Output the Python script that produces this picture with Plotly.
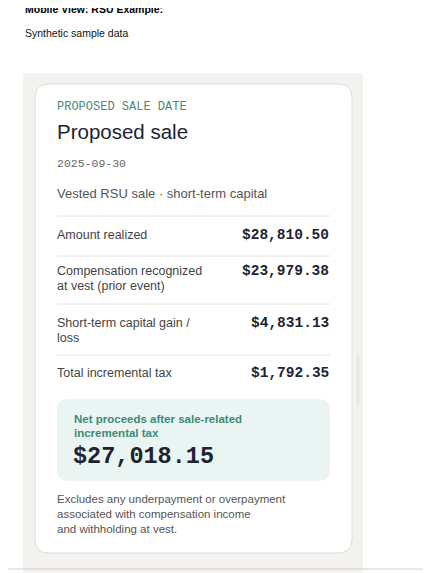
import plotly.graph_objects as go

row_labels = [["Amount realized"],
              ["Compensation recognized", "at vest (prior event)"],
              ["Short-term capital gain /", "loss"],
              ["Total incremental tax"]]
row_values = ["$28,810.50", "$23,979.38", "$4,831.13", "$1,792.35"]
net_label = ["Net proceeds after sale-related", "incremental tax"]
net_value = "$27,018.15"
footnote = ["Excludes any underpayment or overpayment",
            "associated with compensation income",
            "and withholding at vest."]

W, H = 431, 573
OFF = 8
fig = go.Figure()
fig.add_trace(go.Scatter(x=[0, W], y=[0, H], mode="markers", marker=dict(opacity=0), hoverinfo="skip", showlegend=False))

def rrect(x0, y0, x1, y1, r):
    return (f"M{x0+r},{y0} L{x1-r},{y0} Q{x1},{y0} {x1},{y0+r} L{x1},{y1-r} Q{x1},{y1} {x1-r},{y1} "
            f"L{x0+r},{y1} Q{x0},{y1} {x0},{y1-r} L{x0},{y0+r} Q{x0},{y0} {x0+r},{y0} Z")

shapes = [
    dict(type="rect", x0=23, x1=363, y0=73, y1=575, fillcolor="#f3f2ef", line=dict(width=0), layer="below"),
    dict(type="path", path=rrect(35, 84, 352, 553, 14), fillcolor="#ffffff", line=dict(color="#dcdcda", width=1), layer="below"),
    dict(type="path", path=rrect(57, 399, 330, 481, 12), fillcolor="#eaf4f3", line=dict(width=0), layer="below"),
    dict(type="line", x0=-10, x1=W + 10, y0=569, y1=569, line=dict(color="#cfcfcf", width=1)),
    dict(type="line", x0=358, x1=358, y0=355, y1=405, line=dict(color="#e6e6e4", width=3)),
]
for y in [216, 256, 304, 355]:
    shapes.append(dict(type="line", x0=57, x1=330, y0=y, y1=y, line=dict(color="#e2e2e2", width=1)))

ann = []
def t(x, y, s, size, color, family="Liberation Sans", xa="left", bold=False):
    if bold:
        s = f"<b>{s}</b>"
    ann.append(dict(x=x, y=y, text=s, xref="x", yref="y", showarrow=False, xanchor=xa, yanchor="middle",
                    font=dict(size=size, color=color, family=family)))

t(23, 9, "Mobile View: RSU Example:", 10.5, "#000000", bold=True)
t(23, 33, "Synthetic sample data", 10.5, "#111111")
t(55, 107, "PROPOSED SALE DATE", 12, "#4a8a7a", family="Liberation Mono", bold=False)
t(55, 131, "Proposed sale", 20.5, "#1d2430")
t(55, 163, "2025-09-30", 11.5, "#666666", family="Liberation Mono")
t(55, 193, "Vested RSU sale · short-term capital", 13, "#555555")

row_y = [235, 271, 323, 373]
for lab, val, y in zip(row_labels, row_values, row_y):
    for i, line in enumerate(lab):
        t(55, y + i * 15, line, 12.5, "#444444")
    t(331, y, val, 14.5, "#1d2430", family="Liberation Mono", xa="right", bold=True)

for i, line in enumerate(net_label):
    t(72, 419 + i * 13.5, line, 11.5, "#3e8a78", bold=True)
t(71, 456, net_value, 23.5, "#1d2430", family="Liberation Mono", bold=True)
for i, line in enumerate(footnote):
    t(55, 499 + i * 15, line, 11.5, "#555555")

fig.update_layout(width=W, height=H, margin=dict(l=0, r=0, t=0, b=0),
                  paper_bgcolor="white", plot_bgcolor="white",
                  xaxis=dict(range=[OFF, W + OFF], visible=False, fixedrange=True),
                  yaxis=dict(range=[H + OFF, OFF], visible=False, fixedrange=True),
                  shapes=shapes, annotations=ann, showlegend=False)
fig.write_html("out.html", config={"displayModeBar": False})
